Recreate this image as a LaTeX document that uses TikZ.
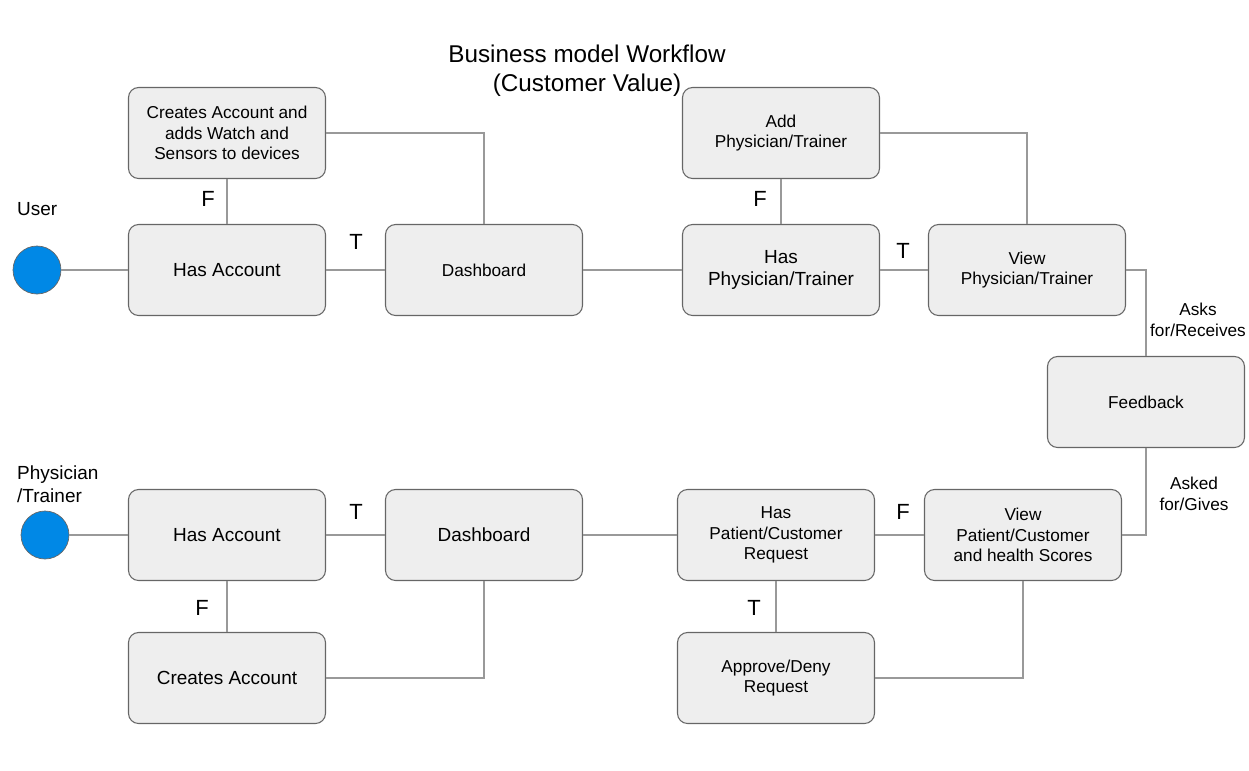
\documentclass[tikz,border=0pt]{standalone}
\usepackage{fontspec}
\setmainfont{Liberation Sans}
\definecolor{boxFill}{HTML}{EEEEEE}
\definecolor{boxLine}{HTML}{666666}
\definecolor{wireGray}{HTML}{999999}
\definecolor{actorBlue}{RGB}{0,136,230}
\newcommand{\boxText}[0]{\fontsize{9.8}{11.8}\selectfont}
\newcommand{\bigText}[0]{\fontsize{10.8}{13}\selectfont}

\begin{document}
\begin{tikzpicture}[x=0.02cm, y=-0.02cm]
  \tikzset{wfbox/.style={draw=boxLine, fill=boxFill, rounded corners=0.2cm, minimum width=3.94cm,
      minimum height=1.82cm, align=center, line width=0.6pt, font=\boxText},
    bigbox/.style={wfbox, font=\bigText},
    actor/.style={circle, draw=boxLine, fill=actorBlue, minimum size=0.96cm, inner sep=0pt},
    wire/.style={draw=wireGray, line width=0.9pt},
    tf/.style={font=\fontsize{12.5}{14}\selectfont},
    note/.style={font=\boxText, align=center}}
  \useasboundingbox (0,0) rectangle (1249,771);

  % title
  \node[align=center, font=\fontsize{13.8}{16.5}\selectfont] (title) at (587,71)
    {Business model Workflow\\(Customer Value)};

  % user side
  \node[anchor=west, font=\bigText] (userLbl) at (11,209) {User};
  \node[actor] (userDot) at (37,270) {};
  \node[bigbox] (uHasAcc) at (227,270) {Has Account};
  \node[wfbox] (uCreate) at (227,133) {Creates Account and\\adds Watch and\\Sensors to devices};
  \node[wfbox] (uDash) at (484,270) {Dashboard};
  \node[bigbox] (uHasPhys) at (781,270) {Has\\Physician/Trainer};
  \node[wfbox] (uAddPhys) at (781,133) {Add\\Physician/Trainer};
  \node[wfbox] (uViewPhys) at (1027,270) {View\\Physician/Trainer};
  \node[wfbox] (feedback) at (1146,402) {Feedback};

  \draw[wire] (userDot) -- (uHasAcc);
  \draw[wire] (uHasAcc) -- (uCreate);
  \draw[wire] (uHasAcc) -- (uDash);
  \draw[wire] (uCreate) -| (uDash);
  \draw[wire] (uDash) -- (uHasPhys);
  \draw[wire] (uHasPhys) -- (uAddPhys);
  \draw[wire] (uHasPhys) -- (uViewPhys);
  \draw[wire] (uAddPhys) -| (uViewPhys);
  \draw[wire] (uViewPhys) -| (feedback);

  \node[tf] (uF1) at (208,199) {F};
  \node[tf] (uT1) at (356,242) {T};
  \node[tf] (uF2) at (760,199) {F};
  \node[tf] (uT2) at (903,251) {T};
  \node[note] (asksLbl) at (1198,320) {Asks\\for/Receives};

  % physician side
  \node[anchor=west, align=left, font=\bigText] (physLbl) at (11,484) {Physician\\/Trainer};
  \node[actor] (physDot) at (45,535) {};
  \node[bigbox] (bHasAcc) at (227,535) {Has Account};
  \node[bigbox] (bCreate) at (227,678) {Creates Account};
  \node[bigbox] (bDash) at (484,535) {Dashboard};
  \node[wfbox] (bHasPat) at (776,535) {Has\\Patient/Customer\\Request};
  \node[wfbox] (bApprove) at (776,678) {Approve/Deny\\Request};
  \node[wfbox] (bViewPat) at (1023,535) {View\\Patient/Customer\\and health Scores};

  \draw[wire] (physDot) -- (bHasAcc);
  \draw[wire] (bHasAcc) -- (bDash);
  \draw[wire] (bHasAcc) -- (bCreate);
  \draw[wire] (bCreate) -| (bDash);
  \draw[wire] (bDash) -- (bHasPat);
  \draw[wire] (bHasPat) -- (bViewPat);
  \draw[wire] (bHasPat) -- (bApprove);
  \draw[wire] (bApprove) -| (bViewPat);
  \draw[wire] (feedback) |- (bViewPat);

  \node[tf] (bT1) at (356,512) {T};
  \node[tf] (bF1) at (202,608) {F};
  \node[tf] (bF2) at (903,512) {F};
  \node[tf] (bT2) at (754,608) {T};
  \node[note] (askedLbl) at (1194,494) {Asked\\for/Gives};
\end{tikzpicture}
\end{document}
